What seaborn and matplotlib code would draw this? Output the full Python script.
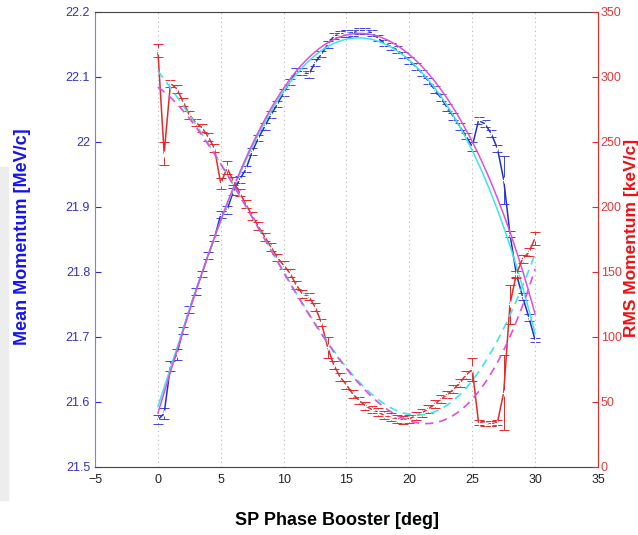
import numpy as np
import pandas as pd
import seaborn as sns
import matplotlib
matplotlib.use("Agg")
import matplotlib.pyplot as plt
from matplotlib.patches import Rectangle

# Phase scan of the SP booster cavity [deg]
phase_deg = [0.0, 0.5, 1.0, 1.5, 2.0, 2.5, 3.0, 3.5, 4.0, 4.5,
             5.0, 5.5, 6.0, 6.5, 7.0, 7.5, 8.0, 8.5, 9.0, 9.5,
             10.0, 10.5, 11.0, 11.5, 12.0, 12.5, 13.0, 13.5, 14.0, 14.5,
             15.0, 15.5, 16.0, 16.5, 17.0, 17.5, 18.0, 18.5, 19.0, 19.5,
             20.0, 20.5, 21.0, 21.5, 22.0, 22.5, 23.0, 23.5, 24.0, 24.5,
             25.0, 25.5, 26.0, 26.5, 27.0, 27.5, 28.0, 28.5, 29.0, 29.5,
             30.0]

# Mean momentum [MeV/c] and its uncertainty
mean_mom = [21.572, 21.582, 21.655, 21.673, 21.710, 21.742, 21.770, 21.797, 21.825, 21.852,
            21.888, 21.895, 21.924, 21.942, 21.958, 21.985, 22.006, 22.024, 22.042, 22.058,
            22.076, 22.092, 22.108, 22.108, 22.104, 22.122, 22.135, 22.150, 22.163, 22.166,
            22.167, 22.168, 22.171, 22.171, 22.168, 22.160, 22.152, 22.147, 22.142, 22.134,
            22.125, 22.116, 22.106, 22.094, 22.081, 22.068, 22.053, 22.039, 22.024, 22.009,
            21.993, 22.033, 22.028, 22.013, 21.990, 21.942, 21.858, 21.797, 21.762, 21.730,
            21.695]
mean_err = [0.007, 0.008, 0.007, 0.008, 0.005, 0.005, 0.005, 0.005, 0.005, 0.005,
            0.005, 0.006, 0.005, 0.005, 0.005, 0.005, 0.005, 0.005, 0.005, 0.005,
            0.005, 0.005, 0.005, 0.005, 0.005, 0.005, 0.005, 0.005, 0.005, 0.005,
            0.005, 0.005, 0.005, 0.005, 0.005, 0.005, 0.005, 0.005, 0.005, 0.005,
            0.005, 0.005, 0.005, 0.005, 0.005, 0.005, 0.005, 0.005, 0.005, 0.005,
            0.007, 0.005, 0.005, 0.005, 0.005, 0.037, 0.005, 0.005, 0.005, 0.005,
            0.003]

# RMS momentum [keV/c] and its uncertainty
rms_mom = [320, 241, 295, 291, 281, 271, 265, 261, 254, 245,
           218, 230, 220, 211, 202, 193, 185, 177, 169, 161,
           155, 149, 140, 133, 131, 123, 111, 92, 78, 69,
           63, 56, 51, 47, 44, 42, 39.5, 38, 37, 36,
           37, 39, 41.5, 44.5, 48, 52, 55.5, 59.5, 64.5, 70.5,
           75, 34, 33.5, 33, 34, 57, 125, 148, 160, 165,
           176]
rms_err = [5, 9, 3, 3, 3, 3, 3, 3, 3, 3,
           4, 5, 3, 3, 3, 3, 3, 3, 3, 3,
           3, 3, 3, 3, 3, 3, 3, 8, 3, 3,
           3, 3, 3, 3, 3, 3, 3, 3, 3, 3,
           3, 3, 3, 3, 3, 3, 3, 3, 3, 3,
           9, 2, 2, 2, 2, 29, 15, 3, 3, 3,
           5]

# Fit curves sampled at these phases
fit_phase = [0.0, 2.5, 5.0, 7.5, 10.0, 12.5, 15.0, 17.5, 20.0, 22.5, 25.0, 27.5, 30.0]
mean_fit_a = [21.592, 21.740, 21.883, 21.990, 22.075, 22.130, 22.162, 22.163, 22.122, 22.062, 21.990, 21.872, 21.703]
mean_fit_b = [21.582, 21.738, 21.884, 21.994, 22.080, 22.136, 22.167, 22.170, 22.133, 22.072, 22.003, 21.892, 21.733]
rms_fit_a = [305, 270, 233, 193, 150, 110, 77, 51, 38.5, 46, 69, 103, 165]
rms_fit_b = [292, 269, 232, 192, 150, 110, 76, 49, 34, 35, 55, 87, 153]

xticks = [-5, 0, 5, 10, 15, 20, 25, 30, 35]
mean_ticks = [21.5, 21.6, 21.7, 21.8, 21.9, 22.0, 22.1, 22.2]
mean_tick_labels = ["21.5", "21.6", "21.7", "21.8", "21.9", "22", "22.1", "22.2"]
rms_ticks = [0, 50, 100, 150, 200, 250, 300, 350]

BLUE = "#2230cc"
BLUE_TXT = "#1414f0"
RED = "#e62a2a"
RED_TXT = "#f01010"
CYAN = "#3fe4ea"
MAGENTA = "#e04ee0"

sns.set_style("white")
plt.rcParams["font.family"] = ["Liberation Sans", "DejaVu Sans"]

data = pd.DataFrame({"phase": phase_deg, "mean": mean_mom, "mean_err": mean_err,
                     "rms": rms_mom, "rms_err": rms_err})

def smooth_fit(xs, ys, deg=5):
    grid = np.linspace(min(xs), max(xs), 301)
    return pd.DataFrame({"phase": grid, "value": np.polyval(np.polyfit(xs, ys, deg), grid)})

fig = plt.figure(figsize=(6.38, 5.35), dpi=100)
ax = fig.add_axes([0.1489, 0.1277, 0.7884, 0.8499])
ax2 = ax.twinx()

# Mean momentum on the left axis
ax.errorbar(data["phase"], data["mean"], yerr=data["mean_err"], fmt="none",
            ecolor="#3a46dc", elinewidth=0.7, capsize=3.4, capthick=0.7, zorder=2)
sns.lineplot(data=data, x="phase", y="mean", ax=ax, color=BLUE, lw=1.1,
             marker="+", markersize=5, markeredgewidth=0.8, zorder=3)
sns.lineplot(data=smooth_fit(fit_phase, mean_fit_a), x="phase", y="value", ax=ax,
             color=CYAN, lw=1.1, zorder=4)
sns.lineplot(data=smooth_fit(fit_phase, mean_fit_b), x="phase", y="value", ax=ax,
             color=MAGENTA, lw=1.1, zorder=4)

# RMS momentum on the right axis
ax2.errorbar(data["phase"], data["rms"], yerr=data["rms_err"], fmt="none",
             ecolor=RED, elinewidth=0.7, capsize=3.4, capthick=0.7, zorder=2)
sns.lineplot(data=data, x="phase", y="rms", ax=ax2, color=RED, lw=1.1,
             marker="+", markersize=5, markeredgewidth=0.8, zorder=3)
sns.lineplot(data=smooth_fit(fit_phase, rms_fit_a), x="phase", y="value", ax=ax2,
             color=CYAN, lw=1.2, linestyle=(0, (5, 3.5)), zorder=4)
sns.lineplot(data=smooth_fit(fit_phase, rms_fit_b), x="phase", y="value", ax=ax2,
             color=MAGENTA, lw=1.2, linestyle=(0, (5, 3.5)), zorder=4)

ax.set_xlim(-5, 35)
ax.set_ylim(21.5, 22.2)
ax2.set_ylim(0, 350)
ax.set_xticks(xticks)
ax.set_yticks(mean_ticks)
ax.set_yticklabels(mean_tick_labels)
ax2.set_yticks(rms_ticks)

ax.xaxis.grid(True, linestyle=(0, (1, 3)), color="#b8b8b8", lw=0.8)
ax.yaxis.grid(False)
ax2.grid(False)

ax.tick_params(axis="x", direction="in", length=4, pad=5, colors="#222222", labelsize=9)
ax.tick_params(axis="y", direction="in", length=4, colors=BLUE, labelcolor="#3232c0", labelsize=9)
ax2.tick_params(axis="y", direction="in", length=4, pad=2, colors=RED, labelcolor="#e03a3a", labelsize=9)

for sp in ["top", "bottom"]:
    ax.spines[sp].set_color("#444444")
    ax2.spines[sp].set_visible(False)
ax.spines["left"].set_color("#7d7df0")
ax.spines["right"].set_visible(False)
ax2.spines["left"].set_visible(False)
ax2.spines["right"].set_color(RED)

ax.set_xlabel("SP Phase Booster [deg]", fontsize=13, fontweight="bold", color="black")
ax.set_ylabel("Mean Momentum [MeV/c]", fontsize=13, fontweight="bold", color=BLUE_TXT)
ax2.set_ylabel("RMS Momentum [keV/c]", fontsize=12.5, fontweight="bold", color=RED_TXT)
for lab in (ax.xaxis.label, ax.yaxis.label, ax2.yaxis.label):
    lab.set_ha("center")
    lab.set_va("center")
    lab.set_rotation_mode("anchor")
ax.xaxis.set_label_coords(0.482, -0.119)
ax.yaxis.set_label_coords(-0.145, 0.506)
ax2.yaxis.set_label_coords(1.0675, 0.504)

# thin grey strip along the left border
fig.add_artist(Rectangle((0, 1 - 500 / 535), 8 / 638, (500 - 167) / 535,
                         transform=fig.transFigure, color="#ededed", zorder=0))

fig.savefig("out.png", dpi=100)
